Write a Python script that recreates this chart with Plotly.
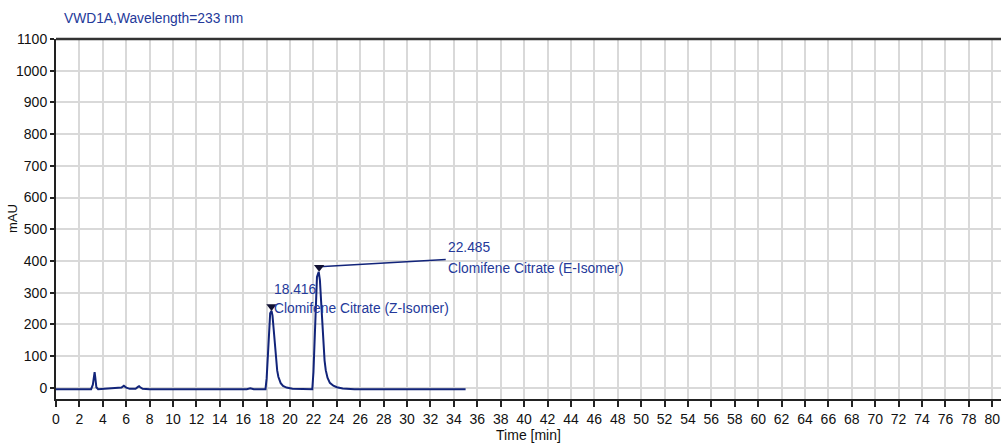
import plotly.graph_objects as go

# chromatogram (time in min, signal in mAU)
times = [0, 1.5, 3.0, 3.15, 3.25, 3.3, 3.35, 3.45, 3.6, 4.0, 4.8, 5.2, 5.6, 5.8, 6.0, 6.3, 6.8, 7.0, 7.1, 7.2, 7.4, 8.0, 12.0, 16.3, 16.6, 16.9, 17.5,
         17.9, 18.0, 18.1, 18.2, 18.3, 18.42, 18.5, 18.6, 18.7, 18.8, 18.9, 19.0, 19.2, 19.4, 19.7, 20.2, 21.0,
         21.9, 22.0, 22.1, 22.2, 22.3, 22.45, 22.55, 22.65, 22.75, 22.85, 22.95, 23.05, 23.2, 23.4, 23.7, 24.0, 24.5, 25.5, 30.0, 35.0]
signal = [-4, -4, -4, 10, 45, 50, 35, 2, -4, -3, -3, -2, 1, 7, 1, -3, -3, 3, 5, 2, -3, -4, -4, -4, -1, -4, -4,
          -4, 30, 110, 190, 235, 243, 228, 185, 130, 85, 55, 35, 15, 6, 1, -3, -4,
          -4, 50, 160, 280, 350, 366, 340, 275, 195, 130, 86, 56, 32, 16, 7, 2, -2, -4, -4, -4]

peak_times = [18.416, 22.485]
peak_marker_y = [257, 380]
peak_rt_labels = ["18.416", "22.485"]
peak_names = ["Clomifene Citrate (Z-Isomer)", "Clomifene Citrate (E-Isomer)"]
label_x = [18.45, 33.3]
label_rt_y = [310, 443]
label_name_y = [250, 378]
leader_x = [22.485, 33.3]
leader_y = [382, 405]

x_ticks = list(range(0, 81, 2))
y_ticks = list(range(0, 1101, 100))

navy = "#12247a"
label_blue = "#24399a"
tick_font = dict(family="Liberation Sans Narrow, Liberation Sans, Arial", size=14, color="#111111")
text_font = dict(family="Liberation Sans, Arial", size=13.8, color=label_blue)

fig = go.Figure()
fig.add_trace(go.Scatter(x=times, y=signal, mode="lines",
                         line=dict(color=navy, width=2), showlegend=False, hoverinfo="skip"))
fig.add_trace(go.Scatter(x=leader_x, y=leader_y, mode="lines",
                         line=dict(color=navy, width=1.5), showlegend=False, hoverinfo="skip"))
fig.add_trace(go.Scatter(x=peak_times, y=peak_marker_y, mode="markers",
                         marker=dict(symbol="triangle-down", size=9, color="#111133"),
                         showlegend=False, hoverinfo="skip"))

for lx, ry, ny, rt, nm in zip(label_x, label_rt_y, label_name_y, peak_rt_labels, peak_names):
    fig.add_annotation(x=lx, y=ry, text=rt, showarrow=False, xanchor="left", yanchor="middle",
                       font=text_font)
    fig.add_annotation(x=lx, y=ny, text=nm, showarrow=False, xanchor="left", yanchor="middle",
                       font=text_font)

fig.add_annotation(xref="paper", yref="paper", x=0.006, y=1.0, yshift=21, text="VWD1A,Wavelength=233 nm",
                   showarrow=False, xanchor="left", yanchor="middle", font=text_font)

# y axis title placed close to the axis like the reference
fig.add_annotation(xref="paper", yref="paper", x=0, y=0.5, xshift=-44, text="mAU", textangle=-90,
                   showarrow=False, xanchor="center", yanchor="middle",
                   font=dict(family="Liberation Sans, Arial", size=13, color="#111111"))

# top border
fig.add_shape(type="line", xref="paper", yref="paper", x0=0, x1=1, y0=1, y1=1,
              line=dict(color="#333333", width=2.5))

fig.update_layout(
    width=1001, height=447,
    margin=dict(l=56, r=0, t=39, b=48),
    paper_bgcolor="white", plot_bgcolor="white",
    xaxis=dict(range=[0, 80.75], tickvals=x_ticks, ticktext=[str(v) for v in x_ticks],
               showgrid=True, gridcolor="#d9d9d9", gridwidth=1.5, zeroline=False,
               showline=True, linecolor="#222222", linewidth=2,
               ticks="outside", ticklen=6, tickwidth=1.5, tickcolor="#222222",
               tickfont=tick_font,
               title=dict(text="Time [min]", font=tick_font, standoff=4)),
    yaxis=dict(range=[-35, 1100], tickvals=y_ticks, ticktext=[str(v) for v in y_ticks],
               showgrid=True, gridcolor="#d9d9d9", gridwidth=1.5, zeroline=False,
               showline=True, linecolor="#222222", linewidth=2,
               ticks="outside", ticklen=4, tickwidth=1.5, tickcolor="#222222",
               tickfont=tick_font),
)

fig.write_html("out.html")
